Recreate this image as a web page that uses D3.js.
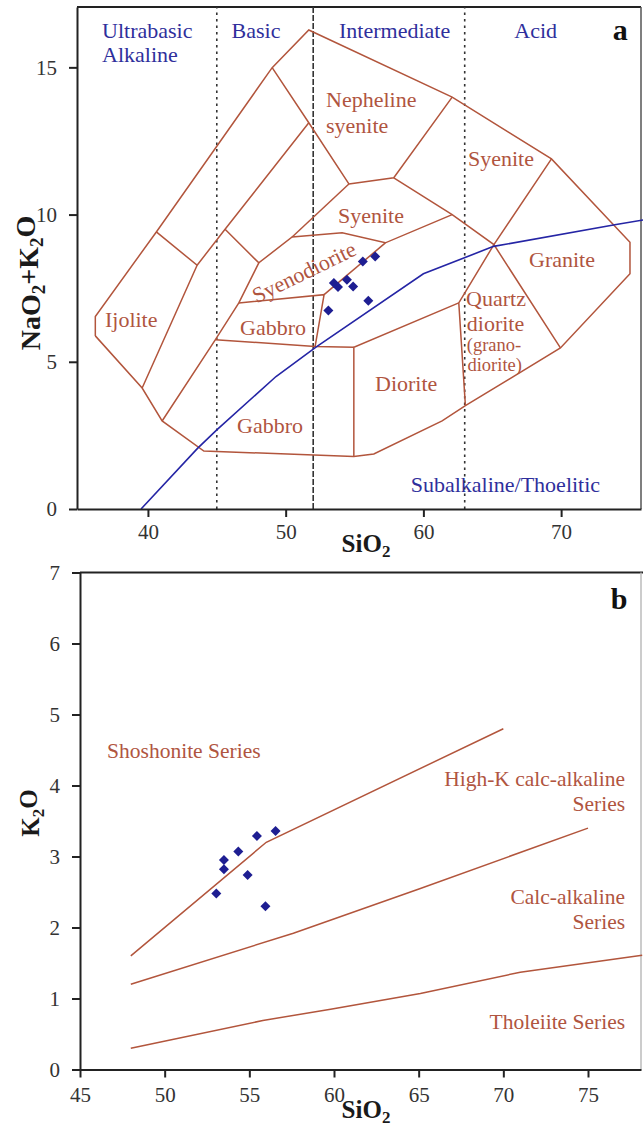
<!DOCTYPE html>
<html><head><meta charset="utf-8">
<script src="https://cdn.jsdelivr.net/npm/d3@7"></script>
<style>
body{margin:0;background:#fff;}
svg text{font-family:"Liberation Serif","Times New Roman",serif;}
</style></head><body>
<svg id="c" width="643" height="1129"></svg>
<script>
// ---------------- DATA ----------------
// Panel a: TAS (SiO2 vs Na2O+K2O)
const tasSiO2   = [53.1, 53.5, 53.8, 54.45, 54.9, 56.0, 55.6, 56.5];
const tasAlkali = [6.74, 7.68, 7.54, 7.79, 7.56, 7.07, 8.41, 8.58];
// Panel b: SiO2 vs K2O
const kSiO2 = [53.05, 53.5, 53.5, 54.35, 54.9, 55.95, 55.45, 56.55];
const kK2O  = [2.48, 2.95, 2.82, 3.07, 2.74, 2.30, 3.29, 3.36];

// TAS field boundaries (Cox et al. plutonic), [SiO2, alkali]
const tasOuter = [[36.18,5.88],[39.58,4.11],[41.03,2.99],[44.06,1.97],[54.95,1.78],[56.4,1.87],
  [61.36,2.99],[63.05,3.51],[69.95,5.47],[75.0,7.99],[75.0,9.06],[69.3,11.89],[62.09,13.99],
  [51.68,16.27],[49.02,14.99],[40.61,9.41],[36.18,6.54],[36.18,5.88]];
const tasInner = [
  [[40.61,9.41],[43.57,8.28],[39.58,4.11]],
  [[43.57,8.28],[45.6,9.5],[51.68,13.12]],
  [[49.02,14.99],[51.68,13.12],[54.59,11.04]],
  [[54.59,11.04],[57.85,11.25],[62.09,13.99]],
  [[57.85,11.25],[62.09,10.0],[65.12,8.98],[69.95,5.47]],
  [[69.3,11.89],[65.12,8.98],[62.57,7.0],[63.05,3.51]],
  [[62.57,7.0],[54.95,5.49],[54.95,1.78]],
  [[54.95,5.49],[52.14,5.52],[44.9,5.75]],
  [[41.03,2.99],[44.9,5.75],[46.6,7.0],[48.05,8.36]],
  [[45.6,9.5],[48.05,8.36],[50.47,9.24],[54.1,9.38],[57.24,9.04],[62.09,10.0]],
  [[50.47,9.24],[54.59,11.04]],
  [[46.6,7.0],[52.79,7.28],[52.14,5.52]],
  [[52.79,7.28],[57.24,9.04]]
];
// Alkaline / subalkaline divide (Irvine & Baragar)
const alkDivide = [[39.5,0],[43.6,2.06],[45,2.69],[49.3,4.5],[52.2,5.5],[60,7.99],[65.1,8.92],[74,9.66],[76.1,9.83]];
// Silica class boundaries
const classBounds = [45, 52, 63];
const classStyles = ["dot","dash","dot"];

// Panel b series boundaries
const shoLine  = [[48,1.6],[56,3.2],[70,4.8]];
const hkLine   = [[48,1.2],[57.6,1.92],[65.1,2.55],[75,3.4]];
const thoLine  = [[48,0.3],[55.8,0.69],[59.8,0.85],[65.1,1.07],[71,1.37],[78.2,1.61]];

const tasTicksX = [40, 50, 60, 70];
const tasTicksY = [0, 5, 10, 15];
const kTicksX = [45, 50, 55, 60, 65, 70, 75];
const kTicksY = [0, 1, 2, 3, 4, 5, 6, 7];

// Labels [text, SiO2, value]
const classLabels = [["Ultrabasic",36.67,16.27,"start"],["Alkaline",36.67,15.45,"start"],
  ["Basic",47.85,16.27,"middle"],["Intermediate",57.91,16.27,"middle"],["Acid",68.15,16.27,"middle"],
  ["Subalkaline/Thoelitic",59.08,0.85,"start"]];
const rockLabels = [["Nepheline",52.93,13.93,22],["syenite",52.93,13.04,22],["Syenite",63.24,11.92,22],
  ["Syenite",53.8,9.99,22],["Granite",67.67,8.49,22],["Gabbro",46.69,6.18,22],["Ijolite",36.88,6.45,22],
  ["Gabbro",46.47,2.85,22],["Diorite",56.49,4.28,22],["Quartz",63.1,7.17,22],["diorite",63.15,6.32,22],
  ["(grano-",63.15,5.57,18.5],["diorite)",63.2,4.92,18.5]];
const seriesLabels = [["Shoshonite Series",46.6,4.5,"start"],["High-K calc-alkaline",77.19,4.1,"end"],
  ["Series",77.19,3.75,"end"],["Calc-alkaline",77.19,2.43,"end"],["Series",77.19,2.08,"end"],
  ["Tholeiite Series",77.19,0.67,"end"]];

// ---------------- STYLE ----------------
const BROWN = "#b2553c", BROWN_T = "#b0553f", BLUE_T = "#2f2f9c", BLUE_L = "#2525a5", PT = "#1e1e92";
const svg = d3.select("#c");

// ---------------- PANEL A ----------------
const xA = d3.scaleLinear().domain([34.85, 75.8]).range([77, 641]);
const yA = d3.scaleLinear().domain([0, 17.05]).range([509, 7]);
const lineA = d3.line().x(d => xA(d[0])).y(d => yA(d[1]));
const gA = svg.append("g");

gA.append("line").attr("x1", xA.range()[0]).attr("x2", xA.range()[1]).attr("y1", yA.range()[1]).attr("y2", yA.range()[1]).attr("stroke","#222").attr("stroke-width",2);
gA.append("line").attr("x1", xA.range()[1]).attr("x2", xA.range()[1]).attr("y1", yA.range()[1]).attr("y2", yA.range()[0]).attr("stroke","#555").attr("stroke-width",1.5);

classBounds.forEach((v,i) => {
  gA.append("line").attr("x1", xA(v)).attr("x2", xA(v)).attr("y1", yA(0)).attr("y2", yA(17.05))
    .attr("stroke","#333").attr("stroke-width",1.6)
    .attr("stroke-dasharray", classStyles[i] === "dot" ? "2.5,4" : "6,2");
});

gA.append("path").attr("d", lineA(tasOuter)).attr("fill","none").attr("stroke",BROWN).attr("stroke-width",1.5);
tasInner.forEach(p => gA.append("path").attr("d", lineA(p)).attr("fill","none").attr("stroke",BROWN).attr("stroke-width",1.5));
gA.append("path").attr("d", lineA(alkDivide)).attr("fill","none").attr("stroke",BLUE_L).attr("stroke-width",1.6);

classLabels.forEach(l => gA.append("text").attr("x", xA(l[1])).attr("y", yA(l[2])).attr("dy","0.35em")
  .attr("text-anchor", l[3]).attr("font-size",22).attr("fill",BLUE_T).text(l[0]));
rockLabels.forEach(l => gA.append("text").attr("x", xA(l[1])).attr("y", yA(l[2])).attr("dy","0.35em")
  .attr("font-size",l[3]).attr("fill",BROWN_T).text(l[0]));
gA.append("text").attr("transform", `translate(${xA(51.33)},${yA(8.05)}) rotate(-26)`).attr("dy","0.35em")
  .attr("text-anchor","middle").attr("font-size",22).attr("fill",BROWN_T).text("Syenodiorite");
gA.append("text").attr("x", xA(74.3)).attr("y", yA(16.3)).attr("dy","0.35em").attr("text-anchor","middle")
  .attr("font-size",30).attr("font-weight","bold").attr("fill","#111").text("a");

gA.selectAll("path.pt").data(tasSiO2).enter().append("path")
  .attr("d", d3.symbol(d3.symbolSquare, 50)())
  .attr("transform", (d,i) => `translate(${xA(d)},${yA(tasAlkali[i])}) rotate(45)`)
  .attr("fill", PT);

const fmtInt = d3.format("d");
const axA = gA.append("g").attr("transform", `translate(0,${yA(0)})`)
  .call(d3.axisBottom(xA).tickValues(tasTicksX).tickFormat(fmtInt).tickSize(8).tickPadding(7).tickSizeOuter(0));
const ayA = gA.append("g").attr("transform", `translate(${xA.range()[0]},0)`)
  .call(d3.axisLeft(yA).tickValues(tasTicksY).tickFormat(fmtInt).tickSize(8).tickPadding(12).tickSizeOuter(0));
[axA, ayA].forEach(a => {
  a.select(".domain").attr("stroke","#222").attr("stroke-width",2);
  a.selectAll(".tick line").attr("stroke","#222").attr("stroke-width",2);
  a.selectAll(".tick text").attr("font-size",21).attr("fill","#333").attr("font-family","Liberation Serif, serif");
});

function titleText(g, parts, attrs, size) {
  const t = g.append("text").attr("font-weight","bold").attr("font-size",size).attr("fill","#1a1a1a");
  Object.entries(attrs).forEach(([k,v]) => t.attr(k,v));
  parts.forEach(p => {
    if (p.sub) t.append("tspan").attr("font-size",size*0.68).attr("dy","0.28em").text(p.t);
    else t.append("tspan").attr("dy", p.after ? "-0.28em" : null).text(p.t);
  });
  return t;
}
titleText(gA, [{t:"SiO"},{t:"2",sub:true}], {x:366, y:552, "text-anchor":"middle"}, 25);
titleText(gA, [{t:"NaO"},{t:"2",sub:true},{t:"+K",after:true},{t:"2",sub:true},{t:"O",after:true}],
  {transform:"translate(40,283) rotate(-90)", "text-anchor":"middle"}, 28);

// ---------------- PANEL B ----------------
const xB = d3.scaleLinear().domain([45, 78.13]).range([80, 641]);
const yB = d3.scaleLinear().domain([0, 7]).range([1069.5, 572.5]);
const lineB = d3.line().x(d => xB(d[0])).y(d => yB(d[1]));
const gB = svg.append("g");

gB.append("line").attr("x1", xB.range()[0]).attr("x2", 643).attr("y1", yB(7)).attr("y2", yB(7)).attr("stroke","#222").attr("stroke-width",2);
gB.append("line").attr("x1", xB.range()[1]).attr("x2", xB.range()[1]).attr("y1", yB(7)).attr("y2", yB(0)).attr("stroke","#bbb").attr("stroke-width",1.5);

[shoLine, hkLine, thoLine].forEach(p => gB.append("path").attr("d", lineB(p)).attr("fill","none").attr("stroke",BROWN).attr("stroke-width",1.5));

seriesLabels.forEach(l => gB.append("text").attr("x", xB(l[1])).attr("y", yB(l[2])).attr("dy","0.35em")
  .attr("text-anchor", l[3]).attr("font-size",21.5).attr("fill",BROWN_T).text(l[0]));
gB.append("text").attr("x", xB(76.84)).attr("y", yB(6.64)).attr("dy","0.35em").attr("text-anchor","middle")
  .attr("font-size",30).attr("font-weight","bold").attr("fill","#111").text("b");

gB.selectAll("path.pt").data(kSiO2).enter().append("path")
  .attr("d", d3.symbol(d3.symbolSquare, 50)())
  .attr("transform", (d,i) => `translate(${xB(d)},${yB(kK2O[i])}) rotate(45)`)
  .attr("fill", PT);

const axB = gB.append("g").attr("transform", `translate(0,${yB(0)})`)
  .call(d3.axisBottom(xB).tickValues(kTicksX).tickFormat(fmtInt).tickSize(8).tickPadding(10).tickSizeOuter(0));
const ayB = gB.append("g").attr("transform", `translate(${xB.range()[0]},0)`)
  .call(d3.axisLeft(yB).tickValues(kTicksY).tickFormat(fmtInt).tickSize(8).tickPadding(12).tickSizeOuter(0));
[axB, ayB].forEach(a => {
  a.select(".domain").attr("stroke","#222").attr("stroke-width",2);
  a.selectAll(".tick line").attr("stroke","#222").attr("stroke-width",2);
  a.selectAll(".tick text").attr("font-size",21).attr("fill","#333").attr("font-family","Liberation Serif, serif");
});
titleText(gB, [{t:"SiO"},{t:"2",sub:true}], {x:366, y:1118, "text-anchor":"middle"}, 25);
titleText(gB, [{t:"K"},{t:"2",sub:true},{t:"O",after:true}], {transform:"translate(39,813) rotate(-90)", "text-anchor":"middle"}, 25);
</script></body></html>
